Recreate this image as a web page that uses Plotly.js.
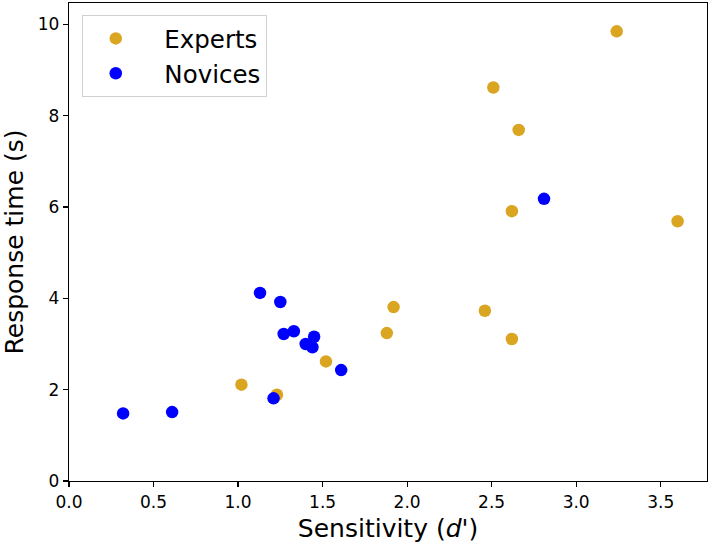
<!DOCTYPE html>
<html>
<head>
<meta charset="utf-8">
<script src="https://cdn.plot.ly/plotly-3.0.1.min.js"></script>
<style>html,body{margin:0;padding:0;background:#fff;}#chart{width:714px;height:546px;}</style>
</head>
<body>
<div id="chart"></div>
<script>
const expertsX = [3.24, 2.51, 2.66, 2.62, 3.60, 1.92, 1.88, 2.46, 2.62, 1.52, 1.02, 1.23];
const expertsY = [9.85, 8.62, 7.69, 5.91, 5.69, 3.81, 3.24, 3.73, 3.11, 2.62, 2.11, 1.89];
const novicesX = [1.13, 1.25, 1.27, 1.33, 1.45, 1.40, 1.44, 1.61, 1.21, 2.81, 0.32, 0.61];
const novicesY = [4.12, 3.92, 3.22, 3.28, 3.16, 3.00, 2.93, 2.43, 1.81, 6.18, 1.48, 1.51];
const xTicks = [0, 0.5, 1, 1.5, 2, 2.5, 3, 3.5];
const xTickText = ['0.0', '0.5', '1.0', '1.5', '2.0', '2.5', '3.0', '3.5'];
const yTicks = [0, 2, 4, 6, 8, 10];

const font = 'DejaVu Sans, sans-serif';
const traces = [
  {x: expertsX, y: expertsY, mode: 'markers', type: 'scatter', name: '\u00a0\u00a0Experts',
   marker: {color: '#DAA520', size: 12.5}},
  {x: novicesX, y: novicesY, mode: 'markers', type: 'scatter', name: '\u00a0\u00a0Novices',
   marker: {color: '#0000FF', size: 12.5}}
];
const axisCommon = {
  showline: true, linecolor: '#000', linewidth: 1.2, mirror: true,
  ticks: 'outside', ticklen: 5, tickwidth: 1.2, tickcolor: '#000',
  showgrid: false, zeroline: false,
  tickfont: {family: font, size: 17, color: '#000'}
};
const layout = {
  width: 714, height: 546,
  margin: {l: 69, r: 7, t: 3, b: 65},
  paper_bgcolor: '#fff', plot_bgcolor: '#fff',
  font: {family: font, color: '#000'},
  showlegend: true,
  legend: {x: 0.02, y: 0.975, xanchor: 'left', yanchor: 'top',
    itemwidth: 56, tracegroupgap: 0,
    bgcolor: 'rgba(255,255,255,0.8)', bordercolor: '#d0d0d0', borderwidth: 1,
    font: {family: font, size: 24.5, color: '#000'}},
  xaxis: Object.assign({}, axisCommon, {
    range: [0, 3.774], tickvals: xTicks, ticktext: xTickText,
    title: {text: "Sensitivity (<i>d</i>')", font: {family: font, size: 25, color: '#000'}, standoff: 9}
  }),
  yaxis: Object.assign({}, axisCommon, {
    range: [0, 10.47], tickvals: yTicks,
    title: {text: 'Response time (s)', font: {family: font, size: 25, color: '#000'}, standoff: 10}
  })
};
Plotly.newPlot('chart', traces, layout, {displayModeBar: false, staticPlot: true});
</script>
</body>
</html>
